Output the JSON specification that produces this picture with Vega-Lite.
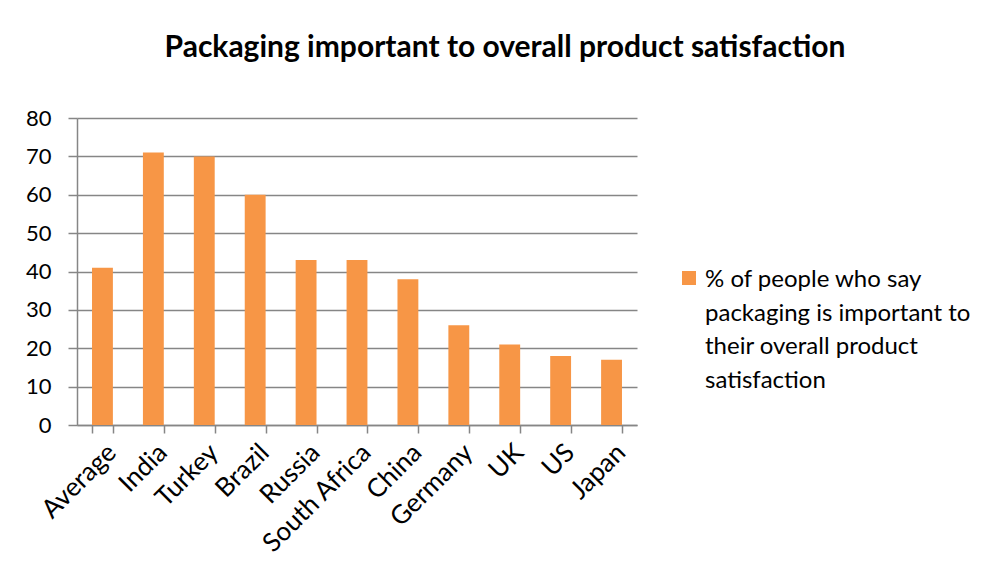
{
  "$schema": "https://vega.github.io/schema/vega-lite/v6.json",
  "width": 560,
  "height": 307,
  "autosize": "none",
  "padding": {"left": 77, "top": 118, "right": 356, "bottom": 157},
  "background": "white",
  "title": {
    "text": "Packaging important to overall product satisfaction",
    "font": "Lato",
    "fontSize": 30,
    "fontWeight": "bold",
    "color": "#000000",
    "anchor": "middle",
    "frame": "group",
    "baseline": "alphabetic",
    "offset": 20,
    "dx": 148
  },
  "data": {
    "values": [
      {"country": "Average", "value": 41, "series": "% of people who say packaging is important to their overall product satisfaction"},
      {"country": "India", "value": 71, "series": "% of people who say packaging is important to their overall product satisfaction"},
      {"country": "Turkey", "value": 70, "series": "% of people who say packaging is important to their overall product satisfaction"},
      {"country": "Brazil", "value": 60, "series": "% of people who say packaging is important to their overall product satisfaction"},
      {"country": "Russia", "value": 43, "series": "% of people who say packaging is important to their overall product satisfaction"},
      {"country": "South Africa", "value": 43, "series": "% of people who say packaging is important to their overall product satisfaction"},
      {"country": "China", "value": 38, "series": "% of people who say packaging is important to their overall product satisfaction"},
      {"country": "Germany", "value": 26, "series": "% of people who say packaging is important to their overall product satisfaction"},
      {"country": "UK", "value": 21, "series": "% of people who say packaging is important to their overall product satisfaction"},
      {"country": "US", "value": 18, "series": "% of people who say packaging is important to their overall product satisfaction"},
      {"country": "Japan", "value": 17, "series": "% of people who say packaging is important to their overall product satisfaction"}
    ]
  },
  "mark": {"type": "bar"},
  "encoding": {
    "x": {
      "field": "country",
      "type": "nominal",
      "sort": null,
      "scale": {"paddingInner": 0.59, "paddingOuter": 0.295},
      "axis": {
        "title": null,
        "labelAngle": -45,
        "labelAlign": "right",
        "labelBaseline": "top",
        "labelFont": "Lato",
        "labelFontSize": 26,
        "labelColor": "#000000",
        "labelPadding": 6,
        "labelLimit": 300,
        "tickBand": "extent",
        "ticks": true,
        "tickSize": 8,
        "tickColor": "#868686",
        "tickWidth": 1.5,
        "domainColor": "#868686",
        "domainWidth": 1.5,
        "grid": false
      }
    },
    "y": {
      "field": "value",
      "type": "quantitative",
      "scale": {"domain": [0, 80]},
      "axis": {
        "title": null,
        "values": [0, 10, 20, 30, 40, 50, 60, 70, 80],
        "labelFont": "Lato",
        "labelFontSize": 22,
        "labelColor": "#000000",
        "labelPadding": 17,
        "tickSize": 9,
        "tickColor": "#868686",
        "tickWidth": 1.5,
        "domainColor": "#868686",
        "domainWidth": 1.5,
        "grid": true,
        "gridColor": "#868686",
        "gridWidth": 1.5
      }
    },
    "color": {
      "field": "series",
      "type": "nominal",
      "scale": {"range": ["#F79646"]},
      "legend": {
        "title": null,
        "orient": "none",
        "legendX": 600,
        "legendY": 148,
        "padding": 0,
        "symbolType": "square",
        "symbolSize": 196,
        "symbolStrokeWidth": 0,
        "symbolOpacity": 1,
        "labelFont": "Lato",
        "labelFontSize": 24,
        "labelColor": "#000000",
        "labelLimit": 400,
        "labelBaseline": "alphabetic",
        "labelOffset": 4,
        "labelExpr": "['% of people who say', 'packaging is important to', 'their overall product', 'satisfaction']",
        "encode": {"labels": {"update": {"dy": {"value": 9}, "lineHeight": {"value": 33.5}}}}
      }
    }
  },
  "config": {
    "view": {"stroke": null}
  }
}
